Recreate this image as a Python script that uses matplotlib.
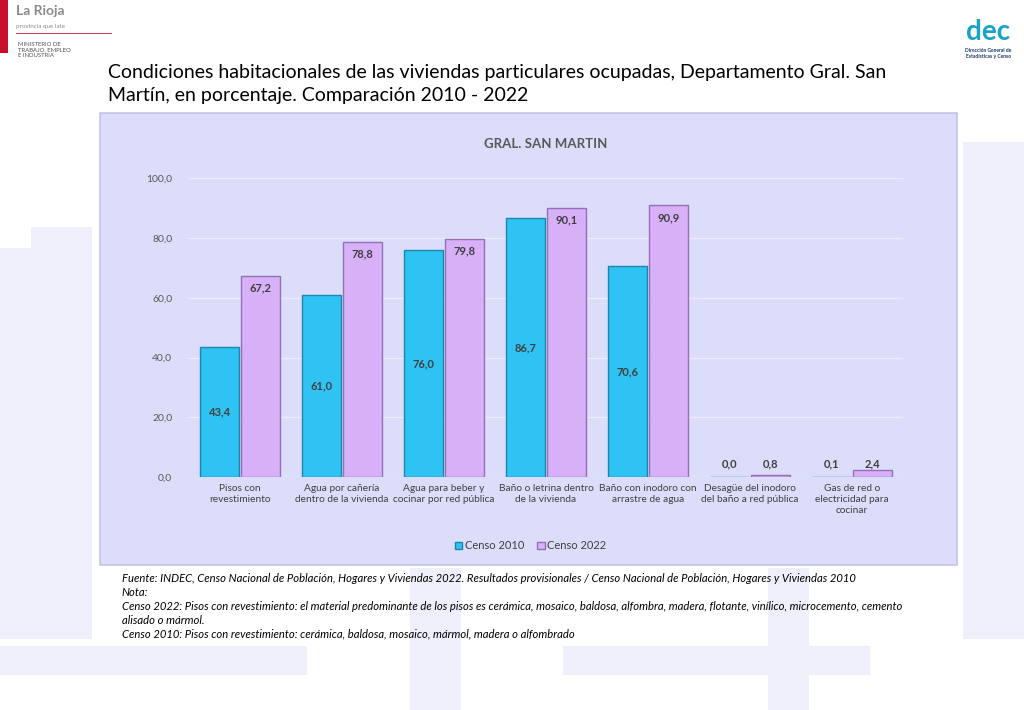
import numpy as np
import matplotlib.pyplot as plt
from matplotlib.patches import Rectangle

plt.rcParams['font.family'] = ['Lato', 'DejaVu Sans']

# Data
categorias = ['Pisos con\nrevestimiento',
              'Agua por cañería\ndentro de la vivienda',
              'Agua para beber y\ncocinar por red pública',
              'Baño o letrina dentro\nde la vivienda',
              'Baño con inodoro con\narrastre de agua',
              'Desagüe del inodoro\ndel baño a red pública',
              'Gas de red o\nelectricidad para\ncocinar']
censo_2010 = [43.4, 61.0, 76.0, 86.7, 70.6, 0.0, 0.1]
censo_2022 = [67.2, 78.8, 79.8, 90.1, 90.9, 0.8, 2.4]
yticks = [0, 20, 40, 60, 80, 100]

c2010 = '#2fc3f3'
c2022 = '#d7b0f7'
txt = '#404040'

fig = plt.figure(figsize=(10.24, 7.1), dpi=100)
fig.patch.set_facecolor('white')

# faint watermark shapes in the background
wm = '#efeffc'
for (x, y, w, h) in [(0.0, 0.1, 0.09, 0.55), (0.03, 0.62, 0.06, 0.06),
                     (0.94, 0.1, 0.06, 0.7), (0.0, 0.05, 0.3, 0.04),
                     (0.4, 0.0, 0.05, 0.2), (0.75, 0.0, 0.04, 0.2),
                     (0.55, 0.05, 0.3, 0.04)]:
    fig.add_artist(Rectangle((x, y), w, h, transform=fig.transFigure,
                             facecolor=wm, edgecolor='none', zorder=0))

# chart panel
fig.add_artist(Rectangle((0.0977, 0.204), 0.837, 0.637, transform=fig.transFigure,
                         facecolor='#d9d9fb', edgecolor='#c0c0e4', lw=1.2,
                         alpha=0.9, zorder=1))

ax = fig.add_axes([0.1846, 0.328, 0.697, 0.421])
ax.set_facecolor('none')
ax.set_zorder(2)

x = np.arange(len(categorias))
w = 0.38
b1 = ax.bar(x - w / 2 - 0.01, censo_2010, w, color=c2010, edgecolor='#1b86ad',
            lw=1.0, label='Censo 2010', zorder=3)
b2 = ax.bar(x + w / 2 + 0.01, censo_2022, w, color=c2022, edgecolor='#9470b4',
            lw=1.0, label='Censo 2022', zorder=3)

def fmt(v):
    return f'{v:.1f}'.replace('.', ',')

for bar, v in zip(b1, censo_2010):
    cx = bar.get_x() + bar.get_width() / 2
    if v > 5:
        ax.text(cx, v / 2, fmt(v), ha='center', va='center', fontsize=8,
                fontweight='bold', color=txt, zorder=4)
    else:
        ax.text(cx, v + 2.5, fmt(v), ha='center', va='bottom', fontsize=8,
                fontweight='bold', color=txt, zorder=4)
for bar, v in zip(b2, censo_2022):
    cx = bar.get_x() + bar.get_width() / 2
    if v > 5:
        ax.text(cx, v - 4, fmt(v), ha='center', va='center', fontsize=8,
                fontweight='bold', color=txt, zorder=4)
    else:
        ax.text(cx, 2.5, fmt(v), ha='center', va='bottom', fontsize=8,
                fontweight='bold', color=txt, zorder=4)

ax.set_xlim(-0.5, len(categorias) - 0.5)
ax.set_ylim(0, 100)
ax.set_yticks(yticks)
ax.set_yticklabels([fmt(t) for t in yticks], fontsize=7.5, color='#595959')
ax.set_xticks(x)
ax.set_xticklabels(categorias, fontsize=7.3, color=txt, linespacing=1.25)
ax.tick_params(length=0, pad=5)
ax.tick_params(axis='y', pad=12)
ax.grid(axis='y', color='#ececfa', lw=1.0, zorder=0)
for s in ax.spines.values():
    s.set_visible(False)

ax.set_title('GRAL. SAN MARTIN', fontsize=9.5, fontweight='bold', color='#595959',
             pad=22)

fig.legend(handles=[b1, b2], loc='center', bbox_to_anchor=(0.518, 0.231), ncol=2,
           frameon=False, fontsize=8, handlelength=0.7, handleheight=0.7,
           handletextpad=0.2, columnspacing=1.2, labelcolor=txt)

# main title
fig.text(0.105, 0.882, 'Condiciones habitacionales de las viviendas particulares ocupadas, '
         'Departamento Gral. San\nMartín, en porcentaje. Comparación 2010 - 2022',
         fontsize=14, color='black', va='center', ha='left', linespacing=1.4)

# footnotes
notas = ['Fuente: INDEC, Censo Nacional de Población, Hogares y Viviendas 2022. Resultados '
         'provisionales / Censo Nacional de Población, Hogares y Viviendas 2010',
         'Nota:',
         'Censo 2022: Pisos con revestimiento: el material predominante de los pisos es cerámica, '
         'mosaico, baldosa, alfombra, madera, flotante, vinílico, microcemento, cemento',
         'alisado o mármol.',
         'Censo 2010: Pisos con revestimiento: cerámica, baldosa, mosaico, mármol, madera o alfombrado']
for i, n in enumerate(notas):
    fig.text(0.119, 1 - (578 + 14 * i) / 710, n, fontsize=8.1, style='italic',
             color='black', va='center', ha='left')

# header logos (text approximations)
fig.add_artist(Rectangle((0.0, 0.925), 0.008, 0.075, transform=fig.transFigure,
                         facecolor='#c8102e', edgecolor='none'))
fig.text(0.016, 0.985, 'La Rioja', fontsize=10, fontweight='bold', color='#8a8a8a',
         va='center')
fig.text(0.016, 0.962, 'provincia que late', fontsize=4.5, color='#8a8a8a', va='center')
fig.add_artist(plt.Line2D([0.016, 0.108], [0.953, 0.953], transform=fig.transFigure,
                          color='#c8102e', lw=0.6))
fig.text(0.018, 0.93, 'MINISTERIO DE\nTRABAJO, EMPLEO\nE INDUSTRIA', fontsize=4.3,
         color='#555555', va='center', linespacing=1.1)
fig.text(0.965, 0.955, 'dec', fontsize=20, fontweight='bold', color='#1aa3c8',
         ha='center', va='center')
fig.text(0.965, 0.925, 'Dirección General de\nEstadísticas y Censo', fontsize=3.6,
         color='#1b3a6b', ha='center', va='center', fontweight='bold')

fig.savefig('out.png', dpi=100)
